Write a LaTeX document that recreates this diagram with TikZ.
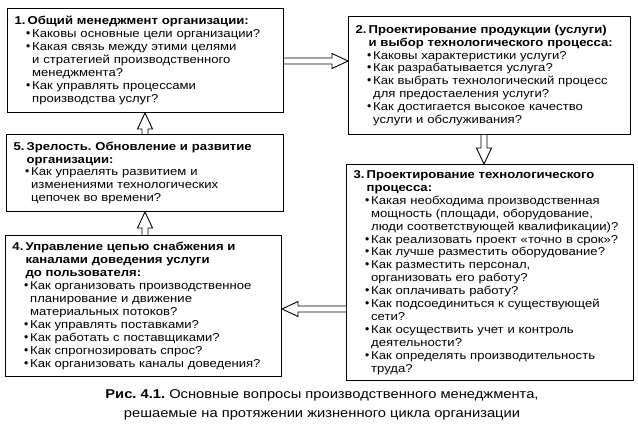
\documentclass[tikz,border=0pt]{standalone}
\usepackage{fontspec}
\setmainfont{Liberation Sans}[FakeStretch=1.15]
\newfontfamily\bulletfont{DejaVu Sans}
\usetikzlibrary{calc}
\frenchspacing

\newcommand{\hd}[2]{{\let\\\newline\hangindent=1.15em\hangafter=1\noindent\makebox[1.15em][l]{\bfseries #1}{\bfseries #2}\par}}
\newcommand{\qq}[1]{{\let\\\newline\hangindent=1.55em\hangafter=1\noindent\hspace*{0.9em}\makebox[0.65em][l]{\bulletfont •}#1\par}}
\newcommand{\blockarrow}[2]{%
    \coordinate (h) at ($(#2)!16pt!(#1)$);
    \draw[blockarr] ($(#1)!3pt!90:(#2)$) -- ($(h)!3pt!-90:(#1)$) -- ($(h)!7.5pt!-90:(#1)$) -- (#2)
        -- ($(h)!7.5pt!90:(#1)$) -- ($(h)!3pt!90:(#1)$) -- ($(#1)!3pt!-90:(#2)$);}

\begin{document}
\begin{tikzpicture}[x=1pt, y=-1pt,
    box/.style={draw, line width=1pt, anchor=north west, align=left, inner xsep=7pt, inner ysep=3pt,
        font=\fontsize{11.4}{12.9}\selectfont},
    blockarr/.style={draw, fill=white, line width=0.9pt, line join=miter},
    caption/.style={align=center, font=\fontsize{12.8}{19}\selectfont}]
            \useasboundingbox (0,0) rectangle (638,427);
            \node[box, text width=262pt, minimum height=104pt] (org) at (7,8) {%
                \hd{1.}{Общий менеджмент организации:}
                \qq{Каковы основные цели организации?}
                \qq{Какая связь между этими целями\\и стратегией производственного\\менеджмента?}
                \qq{Как управлять процессами\\производства услуг?}};
            \node[box, text width=268pt, minimum height=118pt] (prod) at (348,16) {%
                \hd{2.}{Проектирование продукции (услуги)\\и выбор технологического процесса:}
                \qq{Каковы характеристики услуги?}
                \qq{Как разрабатывается услуга?}
                \qq{Как выбрать технологический процесс\\для предостаеления услуги?}
                \qq{Как достигается высокое качество\\услуги и обслуживания?}};
            \node[box, text width=273pt, minimum height=216pt] (tech) at (346,164) {%
                \hd{3.}{Проектирование технологического\\процесса:}
                \qq{Какая необходима производственная\\мощность (площади, оборудование,\\люди соответствующей квалификации)?}
                \qq{Как реализовать проект «точно в срок»?}
                \qq{Как лучше разместить оборудование?}
                \qq{Как разместить персонал,\\организовать его работу?}
                \qq{Как оплачивать работу?}
                \qq{Как подсоединиться к существующей\\сети?}
                \qq{Как осуществить учет и контроль\\деятельности?}
                \qq{Как определять производительность\\труда?}};
            \node[box, text width=262pt, minimum height=141pt] (chain) at (5,235) {%
                \hd{4.}{Управление цепью снабжения и\\каналами доведения услуги\\до пользователя:}
                \qq{Как организовать производственное\\планирование и движение\\материальных потоков?}
                \qq{Как управлять поставками?}
                \qq{Как работать с поставщиками?}
                \qq{Как спрогнозировать спрос?}
                \qq{Как организовать каналы доведения?}};
            \node[box, text width=263pt, minimum height=77pt] (mat) at (6,134) {%
                \hd{5.}{Зрелость. Обновление и развитие\\организации:}
                \qq{Как упраелять развитием и\\изменениями технологических\\цепочек во времени?}};
            \node[caption] (cap) at (322,405) {\textbf{Рис. 4.1.} Основные вопросы производственного менеджмента,\\решаемые на протяжении жизненного цикла организации};
            \coordinate (a12) at (0,61);
            \coordinate (a23) at (484,0);
            \coordinate (a34) at (0,309);
            \coordinate (a45) at (145,0);
            \coordinate (s12) at (org.east |- a12);
            \coordinate (t12) at (prod.west |- a12);
            \coordinate (s23) at (prod.south -| a23);
            \coordinate (t23) at (tech.north -| a23);
            \coordinate (s34) at (tech.west |- a34);
            \coordinate (t34) at (chain.east |- a34);
            \coordinate (s45) at (chain.north -| a45);
            \coordinate (t45) at (mat.south -| a45);
            \coordinate (s51) at (mat.north -| a45);
            \coordinate (t51) at (org.south -| a45);
            \blockarrow{s12}{t12}
            \blockarrow{s23}{t23}
            \blockarrow{s34}{t34}
            \blockarrow{s45}{t45}
            \blockarrow{s51}{t51}
        \end{tikzpicture}
\end{document}
